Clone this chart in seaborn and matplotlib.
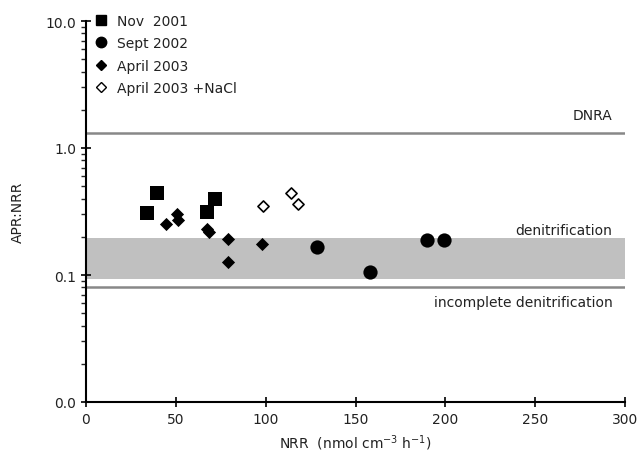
import matplotlib
matplotlib.use("Agg")
import matplotlib.pyplot as plt
import seaborn as sns
import pandas as pd
from matplotlib.lines import Line2D
from matplotlib.ticker import FixedLocator, FixedFormatter, LogLocator, NullFormatter

# ---- data ----
nov2001_x = [33.8, 39.7, 67.2, 71.8]
nov2001_y = [0.307, 0.44, 0.312, 0.40]
sept2002_x = [128.7, 158.1, 189.6, 199.3]
sept2002_y = [0.166, 0.106, 0.19, 0.19]
apr2003_x = [44.4, 50.5, 51.4, 67.2, 68.5, 79.2, 79.2, 97.8]
apr2003_y = [0.25, 0.303, 0.272, 0.232, 0.218, 0.191, 0.127, 0.177]
apr2003nacl_x = [98.7, 114.1, 118.2]
apr2003nacl_y = [0.352, 0.44, 0.363]

series_labels = ["Nov  2001", "Sept 2002", "April 2003", "April 2003 +NaCl"]
dnra_level = 1.32
incomplete_level = 0.08
band_low, band_high = 0.093, 0.195
ytick_vals = [0.01, 0.1, 1.0, 10.0]
ytick_labels = ["0.0", "0.1", "1.0", "10.0"]
xtick_vals = [0, 50, 100, 150, 200, 250, 300]

sns.set_style("ticks")
plt.rcParams['font.family'] = ['DejaVu Sans']

fig = plt.figure(figsize=(6.43, 4.60), dpi=100)
ax = fig.add_axes([86/643, 57/460, 539/643, 381/460])

ax.set_yscale("log")
ax.set_xlim(0, 300)
ax.set_ylim(0.01, 10)

ax.axhspan(band_low, band_high, color="#c0c0c0", zorder=0, lw=0)
ax.axhline(dnra_level, color="#888888", lw=1.8, zorder=1)
ax.axhline(incomplete_level, color="#888888", lw=1.8, zorder=1)

df1 = pd.DataFrame({"x": nov2001_x, "y": nov2001_y})
df2 = pd.DataFrame({"x": sept2002_x, "y": sept2002_y})
df3 = pd.DataFrame({"x": apr2003_x, "y": apr2003_y})
df4 = pd.DataFrame({"x": apr2003nacl_x, "y": apr2003nacl_y})

sns.scatterplot(data=df1, x="x", y="y", marker="s", s=110, color="black", edgecolor="black", linewidth=0, ax=ax, zorder=3)
sns.scatterplot(data=df2, x="x", y="y", marker="o", s=105, color="black", edgecolor="black", linewidth=0, ax=ax, zorder=3)
sns.scatterplot(data=df3, x="x", y="y", marker="D", s=45, color="black", edgecolor="black", linewidth=0, ax=ax, zorder=3)
sns.scatterplot(data=df4, x="x", y="y", marker="D", s=32, facecolor="white", edgecolor="black", linewidth=1.2, ax=ax, zorder=3)

ax.yaxis.set_major_locator(FixedLocator(ytick_vals))
ax.yaxis.set_major_formatter(FixedFormatter(ytick_labels))
ax.yaxis.set_minor_locator(LogLocator(base=10, subs=range(2, 10)))
ax.yaxis.set_minor_formatter(NullFormatter())
ax.set_xticks(xtick_vals)
ax.set_xticklabels([str(v) for v in xtick_vals])

ax.tick_params(axis="both", which="major", direction="inout", length=7, width=1.2,
               labelsize=10, colors="black", labelcolor="#222222")
ax.tick_params(axis="y", which="minor", direction="out", length=3.5, width=1.0)
ax.tick_params(axis="x", which="major", pad=4)

for sp in ["top", "right"]:
    ax.spines[sp].set_visible(False)
for sp in ["left", "bottom"]:
    ax.spines[sp].set_linewidth(1.5)
    ax.spines[sp].set_color("black")

ax.set_xlabel("NRR  (nmol cm$^{-3}$ h$^{-1}$)", fontsize=10, color="#222222", labelpad=4)
ax.set_ylabel("APR:NRR", fontsize=10, color="#222222", labelpad=15)

ax.text(293, 1.32 * 1.22, "DNRA", ha="right", va="bottom", fontsize=10, color="#222222")
ax.text(293, 0.195 * 1.03, "denitrification", ha="right", va="bottom", fontsize=10, color="#222222")
ax.text(293, 0.08 / 1.15, "incomplete denitrification", ha="right", va="top", fontsize=10, color="#222222")

handles = [
    Line2D([], [], marker="s", ls="", color="black", markersize=7),
    Line2D([], [], marker="o", ls="", color="black", markersize=7.5),
    Line2D([], [], marker="D", ls="", color="black", markersize=5),
    Line2D([], [], marker="D", ls="", markerfacecolor="white", markeredgecolor="black", markersize=5, markeredgewidth=1.0),
]
leg = ax.legend(handles, series_labels, loc="upper left", bbox_to_anchor=(0.008, 1.033),
                frameon=False, fontsize=10, handlelength=0.8, handletextpad=0.7,
                labelspacing=0.6, borderaxespad=0)
for t in leg.get_texts():
    t.set_color("#222222")

fig.savefig("out.png", dpi=100)
